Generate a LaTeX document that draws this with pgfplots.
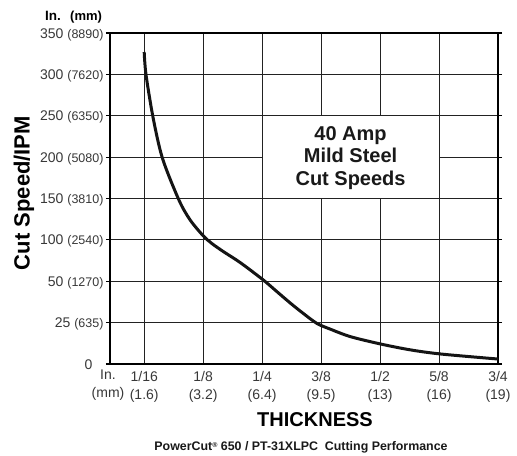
\documentclass[border=0pt]{standalone}
\usepackage{pgfplots}
\pgfplotsset{compat=1.18}
\usepackage{fontspec}
\setmainfont{Liberation Sans}
\definecolor{gridc}{HTML}{222222}
\definecolor{labc}{HTML}{383838}
\newcommand{\fs}[2]{\fontsize{#1bp}{#2bp}\selectfont}
\newcommand{\mm}[1]{{\fs{12.5}{14}#1}}
\begin{document}
\begin{tikzpicture}
\path[use as bounding box] (-110bp,-92bp) rectangle (407bp,364bp);
\begin{axis}[at={(0,0)}, anchor=south west, scale only axis,
  width=388bp, height=331bp,
  xmin=-0.58, xmax=6, ymin=0, ymax=8,
  xtick={0,...,6}, ytick={0,...,8},
  xticklabels={{1/16\\(1.6)},{1/8\\(3.2)},{1/4\\(6.4)},{3/8\\(9.5)},{1/2\\(13)},{5/8\\(16)},{3/4\\(19)}},
  yticklabels={{\raisebox{1bp}{0}\kern11bp},{25 \mm{(635)}},{50 \mm{(1270)}},{100 \mm{(2540)}},{150 \mm{(3810)}},{200 \mm{(5080)}},{250 \mm{(6350)}},{300 \mm{(7620)}},{350 \mm{(8890)}}},
  xticklabel style={align=center, font=\fs{14}{18}, text=labc},
  yticklabel style={font=\fs{14}{16}, text=labc, xshift=1bp, yshift=-1.5bp},
  xmajorgrids, ymajorgrids, grid style={gridc, line width=1.05bp},
  axis line style={line width=1.9bp, black},
  x tick style={draw=none}, y tick style={black, line width=1.05bp},
  tick align=outside, major tick length=4bp,
  clip=false,
]
\fill[white] (axis cs:2,4) rectangle (axis cs:5,6);
\draw[gridc, line width=1.05bp] (axis cs:2,4) rectangle (axis cs:5,6);
\node[align=center, font=\bfseries\fs{20}{22.5}, text=black!90] at (axis cs:3.5,4.98) {40 Amp\\Mild Steel\\Cut Speeds};
\addplot[smooth, line width=3bp, black!92] coordinates {
(0,7.54) (0.03,7.0) (0.15,5.96) (0.31,4.97) (0.59,3.96) (0.78,3.48) (1.0,3.1) (1.15,2.91) (1.35,2.71) (1.63,2.45) (2.02,2.03) (2.25,1.75) (2.48,1.47) (2.70,1.22) (2.93,0.98) (3.16,0.84) (3.5,0.66) (4.02,0.48) (4.52,0.34) (5.04,0.24) (6.0,0.12)
};
\end{axis}
\node[font=\bfseries\fs{22}{24}, rotate=90] at (-86bp,171bp) {Cut Speed/IPM};
\node[font=\bfseries\fs{20}{22}] at (205bp,-56bp) {THICKNESS};
\node[font=\bfseries\fs{12.4}{14}, text=black!90] at (191bp,-83bp) {PowerCut\raisebox{0.45ex}{\fs{7}{8}\textregistered} 650 / PT-31XLPC\ \ Cutting Performance};
\node[font=\bfseries\fs{13.5}{14}, anchor=base west, inner sep=0pt] at (-65bp,343bp) {In.};
\node[font=\bfseries\fs{13}{14}, anchor=base west, inner sep=0pt] at (-40bp,343bp) {(mm)};
\node[align=center, font=\fs{14}{18}, text=labc] at (-2bp,-21bp) {In.\\(mm)};
\end{tikzpicture}
\end{document}
